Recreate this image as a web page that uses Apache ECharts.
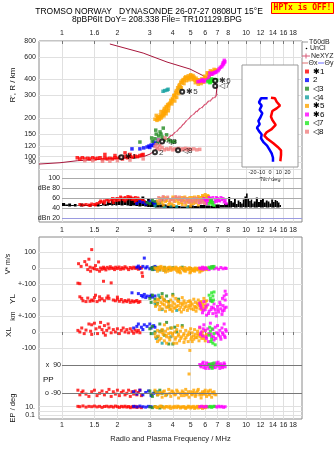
<!DOCTYPE html>
<html>
<head>
<meta charset="utf-8">
<title>Dynasonde ionogram</title>
<script src="https://cdn.jsdelivr.net/npm/echarts@6.0.0/dist/echarts.min.js"></script>
<style>
  html, body { margin: 0; padding: 0; background: #fff; }
  #chart { width: 335px; height: 451px; }
</style>
</head>
<body>
<div id="chart"></div>
<script>
// ---- ticks ----
const freqTicks = [1, 1.5, 2, 3, 4, 5, 6, 7, 8, 10, 12, 14, 16, 18];
const topTickText = ['1', '1.6', '2', '3', '4', '5', '6', '7', '8', '10', '12', '14', '16', '18'];
const bottomTickText = ['1', '1.5', '2', '3', '4', '5', '6', '7', '8', '10', '12', '14', '16', '18'];
const heightTicks = [80, 90, 100, 120, 150, 200, 300, 400, 600, 800];
const dbTicks = [100, 80, 60, 40, 20];
const dbTickText = ['100', 'dBe 80', '60', '40', 'dBn 20'];
const driftTicks = [500, 400, 300, 200, 100, 0, -100];
const driftTickText = ['100', '0', '+-100', '0', '+-100', '0', '-100'];
const ppTicks = [90, -90];
const ppTickText = ['x  90', 'o -90'];
const epLines = [10, 1, 0.1];
const epTicks = [10, 0.1];
const epTickText = ['10.', '0.1'];
const tiltTicks = [-20, -10, 0, 10, 20];

// ---- echo classes ----
const classNames = ['✱1', '2', '◁3', '◁4', '✱5', '✱6', '◁7', '◁8'];
const classColors = ['#ff0000', '#0000ff', '#228b22', '#14a0a0', '#ffa500', '#ff00ff', '#22e822', '#f08080'];

// ---- height panel: [MHz, km] ----
const htRed = [[1.21,98],[1.25,96],[1.29,98],[1.33,96],[1.38,97],[1.42,96],[1.47,98],[1.51,96],[1.56,97],[1.61,98],[1.66,95],[1.71,98],[1.71,104],[1.76,96],[1.82,97],[1.88,96],[1.94,98],[1.94,102],[2.0,97],[2.07,99],[2.13,96],[2.2,100],[2.2,107],[2.27,98],[2.34,100],[2.34,104],[2.41,99],[2.49,101],[2.57,100],[2.65,102],[2.72,103],[2.76,104]];
const htBlue = [[2.4,115],[2.65,115],[2.78,117],[2.9,119],[2.97,121],[3.05,123],[3.12,122],[3.2,126],[3.28,128],[3.33,135],[3.15,130],[3.0,118]];
const htGreen = [[2.65,130],[3.07,140],[3.1,132],[3.2,138],[3.23,161],[3.3,128],[3.35,145],[3.41,156],[3.45,150],[3.5,142],[3.55,167],[3.6,135],[3.7,148],[3.8,135],[3.9,132],[4.0,130],[4.1,131],[3.25,150]];
const htTeal = [[3.54,324],[3.62,328],[3.72,331],[3.77,336],[4.38,347],[4.33,340]];
const htOrange = [[3.32,204],[3.42,212],[3.54,223],[3.7,242],[3.86,262],[4.0,278],[4.11,292],[4.2,310],[4.27,331],[4.38,352],[4.49,376],[4.62,395],[4.78,411],[4.95,418],[5.09,419],[5.2,405],[5.28,396],[5.4,388],[5.48,383],[5.65,388],[5.83,396],[6.0,415],[6.21,438],[6.4,450],[6.62,462],[6.88,476],
  [3.2,196],[3.35,200],[3.5,210],[3.65,225],[3.8,240],[3.95,258],[4.1,272],[4.2,290],[4.3,312],[4.45,345],[4.6,372],[4.75,392],[4.9,398],[5.1,400],[5.3,378],[5.5,368],[5.7,372],[5.9,382],[6.1,410],[6.3,428],[6.5,440],
  [3.45,225],[3.6,238],[3.75,255],[3.9,275],[4.05,300],[4.15,318],[4.25,345],[4.35,365],[4.5,392],[4.65,412],[4.85,428],[5.0,436],[5.15,430],[5.35,410],[5.55,398],[5.75,405],[5.95,425],[6.15,452],[6.4,468],[6.7,480],
  [3.25,210],[3.4,205],[3.55,215],[3.3,198],[3.6,218],[3.7,230],[3.45,200],[3.8,250],[3.95,268],
  [3.28,192],[3.38,195],[3.48,204],[3.58,208],[3.68,216],[3.78,228],[3.58,230],[3.68,246],[3.82,258],[3.98,285],[4.08,302],[4.18,328],[4.32,356],[4.42,382],[4.55,400],[4.7,420],[4.88,410],[5.02,425],[5.22,418],[5.45,398],[5.6,380],[5.8,385],[6.05,405],[6.28,445],[6.52,458],[6.8,468]];
const htMagenta = [[5.48,385],[5.6,388],[5.75,392],[5.9,386],[6.05,395],[6.2,400],[6.36,450],[6.3,420],[6.5,440],[6.7,452],[6.92,460],[7.05,470],[7.15,485],[7.25,498],[7.38,505],[7.45,520],[7.5,538],[7.58,545],[7.67,551],[7.62,565],[7.55,530],[6.6,445],[6.8,455],[5.8,398]];
const htLime = [[6.2,385],[6.3,390],[6.36,378],[6.45,395],[6.55,388],[6.62,400],[6.7,392],[6.77,396],[6.92,396],[6.5,405],[6.4,382]];
const htSalmon = [[1.33,93],[1.47,93],[1.66,92],[1.82,92],[2.0,93],[2.34,94],[2.76,96],[3.2,120],[3.25,124],[3.3,116],[3.4,114],[3.4,122],[3.5,118],[3.6,113],[3.7,115],[3.8,114],[3.9,117],[4.0,113],[4.1,115],[4.2,114],[4.3,116],[4.4,113],[4.5,115],[4.6,114],[4.7,116],[4.8,113],[4.9,115],[5.0,114],[5.2,115],[5.4,113],[5.6,114],[3.35,135],[3.63,140]];

// profile: bottomside, NeXYZ part, topside
const profileLow = [[0.75,87.5],[0.975,89.6],[1.21,92.9],[1.61,95.3],[2.25,97.6],[2.76,99.8],[3.01,104.7],[3.2,112]];
const profileNe = [[3.2,112],[3.35,120],[3.55,131],[3.83,142],[4.03,150],[4.29,163],[4.47,173],[4.66,185],[4.96,203],[5.28,220],[5.5,231],[5.86,248],[6.15,264],[6.5,280],[6.87,297]];
const profileTop = [[6.87,297],[6.95,350],[6.7,390],[6.2,411],[4.96,483],[3.72,548],[2.76,644],[1.82,758]];
const echoLabels = [[2.1,99,'✱1'],[3.2,108,'2'],[3.5,131,'◁3'],[4.5,321,'✱5'],[6.8,392,'✱6'],[6.8,356,'◁7'],[4.27,112,'◁8']];

// tilt inset: [deg, km]
const thetaX = [[1.1,288],[5.7,285],[7.6,268],[11.4,250],[7.6,238],[2.7,227],[1.1,205],[2.7,193],[6.5,177],[1.9,164],[-3.8,155],[-6.5,146],[-2.7,137],[3.8,127],[8.8,119],[12.6,112],[12.6,103],[11.8,92]];
const thetaY = [[-2.7,285],[-10.3,285],[-12.6,265],[-9.5,250],[-11.8,232],[-8.8,218],[-11.1,201],[-13.3,190],[-11.8,179],[-14.9,168],[-12.6,158],[-9.5,149],[-10.3,139],[-7.2,129],[-3.4,122],[-1.1,115],[1.9,106],[3.4,98],[3.4,91]];

// ---- amplitude panel ----
const blackFreq = [1.0,1.04,1.08,1.12,1.16,1.2,1.25,1.3,1.35,1.4,1.45,1.5,1.55,1.6,1.65,1.7,1.75,1.8,1.85,1.9,1.95,2.0,2.08,2.16,2.24,2.32,2.4,2.5,2.6,2.7,2.8,2.9,3.0,3.2,3.4,3.7,4.0,4.4,4.8,5.2,5.6,6.0,6.4,6.8,7.2,7.6,8.0,8.2,8.4,8.6,8.8,9.0,9.2,9.4,9.6,9.8,10.0,10.2,10.4,10.6,10.8,11.0,11.3,11.6,11.9,12.2,12.5,12.8,13.1,13.4,13.7,14.0,14.3,14.6,14.9,15.2];
const blackHigh = [51,48,50,47,49,46,50,48,47,49,46,48,50,47,52,49,54,51,57,53,58,55,60,56,59,63,57,61,58,64,55,59,54,50,48,46,45,44,46,45,47,46,45,48,47,50,63,55,52,60,49,56,53,50,58,64,70,60,55,58,50,54,62,53,57,60,52,56,54,50,58,53,57,55,52,47];
const blackLow = [45,45,44,45,44,45,44,45,45,44,45,45,44,45,46,45,46,47,46,47,46,47,46,47,46,45,46,45,44,45,44,43,43,42,42,41,41,41,41,41,41,41,41,41,42,42,42,42,43,42,42,43,42,42,43,42,42,43,42,42,43,42,42,43,42,42,43,42,42,43,42,42,43,42,42,43];
const dbRed = [[1.25,48],[1.3,47],[1.35,48],[1.4,47],[1.45,49],[1.5,48],[1.55,50],[1.6,52],[1.65,53],[1.7,55],[1.75,57],[1.8,54],[1.85,58],[1.9,56],[1.95,59],[2.0,60],[2.05,57],[2.1,61],[2.15,58],[2.2,62],[2.25,59],[2.3,61],[2.35,63],[2.4,58],[2.45,60],[2.5,62],[2.55,57],[2.6,59],[2.7,55],[2.8,54],[1.7,51],[1.9,52],[2.2,55],[2.5,54],
  [1.62,55],[1.78,58],[1.88,60],[1.98,56],[2.08,63],[2.18,60],[2.28,64],[2.38,61],[2.48,58],[2.58,61],[2.68,58],[2.75,57],[1.42,46],[1.52,47]];
const dbBlue = [[2.55,50],[2.65,54],[2.75,52],[2.85,49],[2.95,53],[3.05,55],[3.15,51],[3.2,48],[3.25,53]];
const dbGreen = [[2.9,52],[3.0,50],[3.1,56],[3.2,54],[3.3,49],[3.4,52],[3.5,57],[6.5,55]];
const dbTeal = [[3.2,45],[3.6,43],[4.2,44],[4.8,43],[3.9,45]];
const dbOrange = [[3.3,55],[3.4,60],[3.5,52],[3.6,62],[3.7,56],[3.8,48],[3.9,58],[4.0,63],[4.1,54],[4.2,60],[4.3,50],[4.4,57],[4.5,62],[4.6,55],[4.7,47],[4.8,60],[4.9,53],[5.0,58],[5.1,62],[5.2,50],[5.3,56],[5.4,60],[5.5,64],[5.6,57],[5.7,62],[5.8,66],[5.9,60],[6.0,68],[6.1,63],[6.2,66],[6.3,60],[6.4,58],[4.05,46],[4.5,48],[5.0,45],[5.5,47],
  [3.35,50],[3.45,57],[3.55,47],[3.65,54],[3.75,61],[3.85,52],[3.95,49],[4.05,58],[4.15,62],[4.25,55],[4.35,61],[4.45,52],[4.55,58],[4.65,63],[4.75,53],[4.85,56],[4.95,62],[5.05,50],[5.15,55],[5.25,63],[5.35,52],[5.45,58],[5.55,61],[5.65,53],[5.75,58],[5.85,63],[5.95,55],[6.05,62],[6.15,58],[6.25,64],[6.35,55],[6.45,52]];
const dbMagenta = [[5.6,52],[5.8,56],[6.0,58],[6.2,55],[6.4,60],[6.6,62],[6.8,57],[7.0,60],[7.2,55],[7.4,58],[7.6,53],[7.8,50],[6.1,50],[6.7,52],[7.3,62],
  [5.7,55],[5.9,60],[6.1,57],[6.3,62],[6.5,58],[6.9,62],[7.1,56],[7.5,60],[7.7,56],[6.0,53],[6.9,54]];
const dbLime = [[6.3,50],[6.4,55],[6.5,58],[6.55,48],[6.6,52],[6.7,46],[6.45,53]];
const dbSalmon = [[3.35,62],[3.45,58],[3.55,64],[3.7,60],[3.85,55],[4.0,60],[4.15,64],[4.3,58],[4.45,55],[4.6,61],[4.75,57],[4.9,52],[5.05,56],[5.2,60],[5.35,53],[5.5,57],[5.65,51],[5.8,55],[5.95,50],
  [3.4,55],[3.5,61],[3.6,57],[3.75,63],[3.9,58],[4.05,55],[4.2,61],[4.35,63],[4.5,58],[4.65,52],[4.8,59],[4.95,56],[5.1,53],[5.25,57],[5.4,61],[5.55,54],[5.7,57],[5.85,52]];

// ---- V* (m/s) ----
const vsRed = [[1.23,27],[1.27,10],[1.33,40],[1.36,20],[1.38,-10],[1.4,55],[1.42,5],[1.43,-20],[1.45,115],[1.47,0],[1.5,-5],[1.52,15],[1.55,-10],[1.58,38],[1.6,-20],[1.62,0],[1.65,-8],[1.68,5],[1.7,-3],[1.73,-12],[1.76,4],[1.8,-5],[1.83,8],[1.86,-2],[1.9,0],[1.93,-10],[1.96,5],[2.0,-3],[2.04,6],[2.08,-8],[2.12,2],[2.16,-5],[2.2,8],[2.25,0],[2.3,-10],[2.35,3],[2.4,-4],[2.45,5],[2.5,-2],[2.55,0],[2.6,-8],[2.65,4],[2.72,-30],[2.74,-52],[2.7,0]];
const vsBlue = [[2.55,5],[2.65,-3],[2.75,10],[2.8,62],[2.85,0],[2.9,8],[3.0,-5],[3.1,3],[3.2,10],[2.6,12],[3.15,-8]];
const vsGreen = [[3.05,0],[3.1,-10],[3.15,5],[3.2,-5],[3.3,3],[3.4,-12],[3.6,4],[3.8,-6],[4.0,2],[4.5,5],[5.0,-3],[6.6,8]];
const vsTeal = [[3.25,-8],[3.6,-15],[4.6,-10]];
const vsOrange = [[3.2,0],[3.3,-5],[3.35,5],[3.4,-10],[3.5,0],[3.55,-15],[3.6,4],[3.7,-8],[3.75,-20],[3.8,2],[3.9,-5],[3.95,-12],[4.0,0],[4.1,-8],[4.15,5],[4.2,-15],[4.3,-3],[4.35,-22],[4.4,2],[4.5,-6],[4.6,-12],[4.65,3],[4.7,-20],[4.8,-4],[4.9,-10],[4.95,-30],[5.0,-2],[5.1,-8],[5.2,-15],[5.3,0],[5.4,-5],[5.5,-10],[5.6,-3],[5.7,-18],[5.8,0],[5.9,-6],[6.0,-3],[6.1,-10],[3.45,10],[4.25,-25],[5.25,-20],[3.65,-25],
  [3.25,-5],[3.42,3],[3.58,-8],[3.72,0],[3.88,-15],[4.02,-5],[4.18,0],[4.32,-10],[4.48,-2],[4.62,-18],[4.78,-8],[4.92,2],[5.08,-15],[5.22,-5],[5.38,-12],[5.52,-2],[5.68,-8],[5.82,-14],[5.98,-5],[6.12,0],[3.3,-20],[3.85,5],[4.4,-30],[5.0,-25],[5.6,-25]];
const vsMagenta = [[5.6,0],[5.7,-5],[5.8,5],[5.9,-8],[6.0,2],[6.1,-3],[6.3,-10],[6.5,5],[6.7,-5],[6.9,0],[7.1,-8],[7.3,3],[7.5,-5],[7.7,0],[7.8,-3]];
const vsLime = [[6.3,5],[6.4,-2],[6.5,8],[6.6,0],[6.7,10]];
const vsSalmon = [];

// ---- YL (km) ----
const ylRed = [[1.22,105],[1.25,102],[1.25,20],[1.28,10],[1.3,-5],[1.35,-10],[1.38,12],[1.42,-8],[1.45,0],[1.48,-5],[1.5,15],[1.52,30],[1.55,-10],[1.6,0],[1.65,8],[1.68,117],[1.7,-5],[1.75,12],[1.8,10],[1.85,107],[1.9,0],[1.95,-5],[2.0,5],[2.05,-8],[2.1,3],[2.15,-12],[2.2,-3],[2.25,-10],[2.3,0],[2.35,-15],[2.4,-5],[2.45,-12],[2.5,-8],[2.55,-3],[2.6,-15],[2.65,-10],[1.6,20],[1.78,25],[2.0,18]];
const ylBlue = [[2.4,45],[2.6,40],[2.7,28],[2.75,20],[2.8,35],[2.9,25],[3.0,22],[3.05,30],[3.1,18],[3.2,25],[2.85,15]];
const ylGreen = [[3.0,10],[3.05,-15],[3.1,30],[3.2,5],[3.3,-20],[3.4,15],[3.5,40],[3.6,0],[3.7,25],[3.8,-10],[4.0,35],[4.3,5],[3.25,-30]];
const ylTeal = [[3.2,-20],[3.5,-60],[3.8,-40],[4.2,-65],[3.35,30]];
const ylOrange = [[3.2,-10],[3.3,-25],[3.35,0],[3.4,-40],[3.45,-15],[3.5,-55],[3.55,5],[3.6,-30],[3.65,-70],[3.7,-10],[3.75,-45],[3.8,-20],[3.85,-60],[3.9,0],[3.95,-35],[4.0,-15],[4.05,-50],[4.1,-25],[4.15,10],[4.2,-40],[4.3,-10],[4.35,-60],[4.4,-20],[4.45,-75],[4.5,-30],[4.6,-5],[4.65,-45],[4.7,-20],[4.8,-65],[4.85,-10],[4.9,-35],[5.0,-15],[5.05,-55],[5.1,-25],[5.2,5],[5.25,-40],[5.3,-15],[5.4,-50],[5.45,-20],[5.5,0],[5.6,-35],[5.7,-10],[5.75,-60],[5.8,-25],[5.9,10],[6.0,-30],[6.1,-5],[3.5,20],[4.0,25],[4.5,15],
  [3.22,-40],[3.38,-60],[3.52,-25],[3.68,-45],[3.82,-35],[3.98,-70],[4.12,-50],[4.28,-35],[4.42,-45],[4.58,-60],[4.72,-40],[4.88,-50],[5.02,-35],[5.18,-60],[5.32,-45],[5.48,-30],[5.62,-55],[5.78,-40],[5.92,-50],[6.08,-45],[3.3,5],[3.6,-5],[3.9,-55],[4.25,-5],[4.55,-20],[4.95,-5],[5.35,-70],[5.65,-15],[6.0,-10]];
const ylMagenta = [[5.6,-20],[5.7,-50],[5.8,-80],[5.9,-10],[6.0,-60],[6.1,-95],[6.2,-30],[6.3,-70],[6.4,-5],[6.5,-45],[6.6,-85],[6.7,-25],[6.8,-60],[6.9,-100],[7.0,-40],[7.1,-75],[7.2,-15],[7.3,-55],[7.4,-90],[7.5,-35],[7.6,-65],[7.7,0],[7.8,-45],[7.6,25],[7.45,10],[7.7,55],[7.8,35],
  [5.65,-35],[5.85,-65],[6.05,-40],[6.25,-85],[6.45,-60],[6.65,-50],[6.85,-80],[7.05,-60],[7.25,-30],[7.45,-70],[7.65,-50]];
const ylLime = [[6.3,30],[6.4,10],[6.5,45],[6.55,-10],[6.6,25],[6.7,50],[6.45,-5],[6.65,0]];
const ylSalmon = [];

// ---- XL (km) ----
const xlRed = [[1.22,10],[1.25,0],[1.28,25],[1.32,-10],[1.35,12],[1.4,50],[1.43,5],[1.45,-15],[1.5,55],[1.53,20],[1.56,-10],[1.6,30],[1.62,60],[1.65,15],[1.68,-5],[1.7,40],[1.72,-20],[1.75,10],[1.8,25],[1.85,-5],[1.9,15],[1.95,0],[2.0,20],[2.05,-10],[2.1,10],[2.15,25],[2.2,0],[2.25,15],[2.3,-5],[2.35,20],[2.4,5],[2.45,-8],[2.5,12],[2.55,0],[2.6,10],[2.65,-5],[1.45,45],[1.78,50]];
const xlBlue = [[2.45,25],[2.55,35],[2.6,50],[2.7,30],[2.8,45],[2.9,35],[3.0,50],[3.05,25],[3.15,40],[3.2,30],[2.75,15]];
const xlGreen = [[3.0,20],[3.05,-10],[3.1,35],[3.2,0],[3.3,-30],[3.4,50],[3.5,10],[3.6,-20],[3.7,60],[3.8,-75],[4.0,-75],[3.9,25],[4.1,30],[4.5,40],[4.2,0]];
const xlTeal = [[3.15,-10],[3.25,-40],[3.5,-70],[3.9,-30],[3.4,5]];
const xlOrange = [[3.2,-10],[3.3,10],[3.35,-25],[3.4,0],[3.45,-40],[3.5,15],[3.55,-15],[3.6,-55],[3.65,5],[3.7,-30],[3.75,20],[3.8,-10],[3.85,-50],[3.9,-5],[3.95,25],[4.0,-25],[4.05,-70],[4.1,0],[4.15,-35],[4.2,15],[4.3,-15],[4.35,-55],[4.4,5],[4.45,-30],[4.5,30],[4.6,-10],[4.65,-45],[4.7,10],[4.8,-20],[4.85,-60],[4.9,0],[5.0,20],[5.05,-30],[5.1,-5],[5.2,-45],[5.25,15],[5.3,-15],[5.4,-35],[5.45,5],[5.5,-20],[5.6,25],[5.7,-10],[5.75,-40],[5.8,0],[5.9,-25],[6.0,10],[6.1,-15],[4.95,-115],[3.6,45],[4.25,40],
  [3.22,-30],[3.38,-50],[3.52,-5],[3.68,-20],[3.82,-35],[3.98,-10],[4.12,-45],[4.28,-25],[4.42,-40],[4.58,-20],[4.72,-35],[4.88,-15],[5.02,-45],[5.18,-25],[5.32,-35],[5.48,-10],[5.62,-30],[5.78,-20],[5.92,-40],[6.08,-25],[3.3,-60],[3.7,-70],[4.2,-70],[4.6,-65],[5.1,-60],[5.55,-55],[6.0,-55]];
const xlMagenta = [[5.6,30],[5.7,0],[5.8,-25],[5.9,45],[6.0,10],[6.1,-40],[6.2,20],[6.3,-10],[6.4,55],[6.5,-30],[6.6,15],[6.7,-50],[6.8,30],[6.9,-5],[7.0,40],[7.1,-20],[7.2,10],[7.3,-45],[7.4,25],[7.5,-15],[7.6,50],[7.7,-35],[7.8,5],
  [5.65,-15],[5.85,20],[6.05,-30],[6.25,-60],[6.45,-15],[6.65,-30],[6.85,-40],[7.05,-10],[7.25,-30],[7.45,-5],[7.65,-25],[7.75,15]];
const xlLime = [[6.3,-20],[6.4,5],[6.5,-45],[6.55,20],[6.6,-70],[6.7,-10],[6.45,-60],[6.8,-80],[6.35,30]];
const xlSalmon = [];

// ---- PP (deg) ----
const ppRed = [[1.22,-70],[1.25,-100],[1.28,-85],[1.3,-75],[1.35,-95],[1.4,-110],[1.45,-80],[1.5,-70],[1.55,-105],[1.6,-90],[1.65,-75],[1.7,-100],[1.75,-85],[1.8,-65],[1.85,-110],[1.9,-80],[1.95,-95],[2.0,-70],[2.05,-105],[2.1,-85],[2.15,-75],[2.2,-100],[2.25,-90],[2.3,-70],[2.35,-110],[2.4,-80],[2.45,-95],[2.5,-75],[2.55,-100],[2.6,-85],[2.65,-70],[2.7,-105]];
const ppBlue = [[2.45,-80],[2.55,-95],[2.65,-70],[2.75,-100],[2.85,-85],[2.95,-75],[3.05,-105],[3.15,-90]];
const ppGreen = [[3.0,-75],[3.05,-95],[3.1,-110],[3.2,-80],[3.3,-100],[3.4,-70],[3.5,-90]];
const ppTeal = [[3.3,-80],[3.7,-100]];
const ppOrange = [[3.2,-70],[3.3,-100],[3.4,-85],[3.5,-115],[3.6,-75],[3.7,-95],[3.8,-65],[3.9,-110],[4.0,-80],[4.1,-100],[4.2,-70],[4.3,-120],[4.4,-90],[4.5,-75],[4.6,-105],[4.7,-65],[4.8,-95],[4.9,-115],[5.0,-80],[5.1,-100],[5.2,-70],[5.3,-110],[5.4,-85],[5.5,-65],[5.6,-100],[5.7,-120],[5.8,-80],[5.9,-95],[6.0,-70],[6.1,-110],[6.2,-85],[6.3,-100],[6.4,-70],[6.5,-115],[6.6,-90],[6.7,-80],[6.85,-100],[4.9,34],[3.45,-90],[4.05,-90],[4.65,-90],[5.25,-90],[5.85,-90],
  [3.25,-85],[3.35,-95],[3.55,-80],[3.65,-105],[3.85,-90],[3.95,-75],[4.15,-95],[4.25,-80],[4.45,-105],[4.55,-85],[4.75,-100],[4.85,-80],[5.05,-95],[5.15,-85],[5.35,-100],[5.45,-75],[5.65,-90],[5.75,-100],[5.95,-80],[6.05,-95],[6.25,-75],[6.35,-95],[6.55,-85],[6.75,-95]];
const ppMagenta = [[5.6,95],[5.7,80],[5.8,100],[5.9,75],[6.0,90],[6.1,105],[6.2,85],[6.3,70],[6.4,95],[6.5,80],[6.6,100],[6.7,90],[6.8,75],[6.9,105],[7.0,85],[7.1,95],[7.2,70],[7.3,100],[7.4,85],[7.5,90],[7.6,105],[7.7,80],
  [5.65,88],[5.85,110],[6.05,70],[6.25,100],[6.45,88],[6.65,78],[6.85,95],[7.05,110],[7.25,88],[7.45,75],[7.65,95]];
const ppLime = [[6.3,95],[6.4,80],[6.5,100],[6.55,70],[6.6,90],[6.7,105],[6.45,85]];
const ppSalmon = [];

// ---- EP (deg) ----
const epRed = [[1.22,12],[1.25,10],[1.3,15],[1.35,8],[1.4,12],[1.45,10],[1.5,14],[1.55,9],[1.6,12],[1.65,7],[1.7,11],[1.75,13],[1.8,9],[1.85,12],[1.9,8],[1.95,14],[2.0,10],[2.05,7],[2.1,12],[2.15,9],[2.2,13],[2.25,8],[2.3,11],[2.35,6],[2.4,10],[2.45,8],[2.5,12],[2.55,7],[2.6,9],[2.7,6]];
const epBlue = [[2.45,12],[2.55,9],[2.65,14],[2.75,10],[2.85,8],[2.95,12],[3.05,10]];
const epGreen = [[3.0,9],[3.1,6],[3.2,11],[3.3,7],[3.4,5],[3.5,10]];
const epTeal = [];
const epOrange = [[3.2,10],[3.3,6],[3.4,12],[3.5,8],[3.6,5],[3.7,11],[3.8,7],[3.9,4],[4.0,9],[4.1,12],[4.2,6],[4.3,10],[4.4,5],[4.5,8],[4.6,11],[4.7,4],[4.8,7],[4.9,10],[5.0,5],[5.1,8],[5.2,12],[5.3,6],[5.4,9],[5.5,5],[5.6,10],[5.7,7],[5.8,4],[5.9,9],[6.0,6],[6.1,11],
  [3.25,8],[3.45,14],[3.65,9],[3.85,12],[4.05,6],[4.25,13],[4.45,9],[4.65,6],[4.85,13],[5.05,9],[5.25,4],[5.45,12],[5.65,8],[5.85,11],[6.05,8]];
const epMagenta = [[5.6,10],[5.75,13],[5.9,8],[6.05,12],[6.2,9],[6.8,11],[6.95,8],[7.1,13],[7.25,9],[7.4,12],[7.55,7],[7.7,10]];
const epLime = [[6.3,9],[6.4,12],[6.5,7],[6.6,10],[6.7,13]];
const epSalmon = [];

// ---------------------------------------------------------------
const FONT = '"Liberation Sans", Arial, sans-serif';
const lx = v => Math.log10(v);
const XMIN = -0.125, XMAX = 1.304;
const HMIN = 1.880, HMAX = lx(800);

const chart = echarts.init(document.getElementById('chart'));

const gridBase = { containLabel: false, outerBoundsMode: 'none' };
const grids = [
  { left: 39, top: 41, width: 263, height: 131 },   // 0 heights
  { left: 39, top: 172, width: 263, height: 50 },   // 1 amplitude
  { left: 39, top: 237, width: 263, height: 118 },  // 2 V*, YL, XL
  { left: 39, top: 355, width: 263, height: 45 },   // 3 PP
  { left: 39, top: 400, width: 263, height: 19 },   // 4 EP
  { left: 242, top: 65, width: 56, height: 102, show: true, backgroundColor: '#fff', borderColor: '#999', borderWidth: 1, z: 3 }, // 5 tilt
  { left: 39, top: 41, width: 263, height: 181, show: true, borderColor: '#8a8a8a', borderWidth: 1 },  // 6 frame
  { left: 39, top: 237, width: 263, height: 182, show: true, borderColor: '#8a8a8a', borderWidth: 1 }  // 7 frame
].map(g => Object.assign({}, gridBase, g));

const lbl = { fontSize: 7, color: '#222', fontFamily: FONT };
const gridLine = { show: true, lineStyle: { color: '#e0e0e0', width: 1 } };
const freqLabelFmt = texts => v => {
  const i = freqTicks.findIndex(t => Math.abs(lx(t) - v) < 1e-6);
  return i < 0 ? '' : texts[i];
};

function freqAxis(gridIndex, extra) {
  return Object.assign({
    type: 'value', gridIndex, min: XMIN, max: XMAX,
    axisLine: { show: false },
    axisTick: { show: false, customValues: freqTicks.map(lx) },
    axisLabel: { show: false },
    splitLine: gridLine
  }, extra);
}

const xAxes = [
  freqAxis(0, { position: 'top',
    axisTick: { show: true, inside: true, length: 3, customValues: freqTicks.map(lx), lineStyle: { color: '#777' } },
    axisLabel: Object.assign({ show: true, margin: 4, customValues: freqTicks.map(lx), formatter: freqLabelFmt(topTickText) }, lbl) }),
  freqAxis(1, { position: 'bottom',
    axisLabel: Object.assign({ show: true, margin: 5, customValues: freqTicks.map(lx), formatter: freqLabelFmt(bottomTickText) }, lbl) }),
  freqAxis(2, { position: 'top',
    axisTick: { show: true, inside: true, length: 3, customValues: freqTicks.map(lx), lineStyle: { color: '#777' } } }),
  freqAxis(3, {}),
  freqAxis(4, { position: 'bottom',
    axisLabel: Object.assign({ show: true, margin: 3, customValues: freqTicks.map(lx), formatter: freqLabelFmt(bottomTickText) }, lbl),
    name: 'Radio and Plasma Frequency / MHz', nameLocation: 'middle', nameGap: 16,
    nameTextStyle: { fontSize: 7.5, color: '#222', fontFamily: FONT } }),
  { type: 'value', gridIndex: 5, min: -32, max: 32,
    axisLine: { show: false },
    axisTick: { show: false, customValues: tiltTicks },
    axisLabel: { show: true, customValues: tiltTicks, margin: 2, fontSize: 5.5, color: '#222', fontFamily: FONT },
    splitLine: { show: true, lineStyle: { color: '#cfcfcf' } },
    name: 'Tilt / deg', nameLocation: 'middle', nameGap: 9,
    nameTextStyle: { fontSize: 5.5, color: '#222', fontFamily: FONT } },
  { type: 'value', gridIndex: 6, show: false },
  { type: 'value', gridIndex: 7, show: false }
];

const yAxes = [
  { type: 'value', gridIndex: 0, min: HMIN, max: HMAX,
    axisLine: { show: false },
    axisTick: { show: false, customValues: heightTicks.map(lx) },
    axisLabel: Object.assign({ customValues: heightTicks.map(lx), margin: 3, formatter: v => String(Math.round(Math.pow(10, v))) }, lbl),
    splitLine: gridLine },
  { type: 'value', gridIndex: 1, min: 13, max: 113, offset: -23,
    axisLine: { show: false }, axisTick: { show: false },
    axisLabel: Object.assign({ customValues: dbTicks, margin: 2, formatter: v => dbTickText[dbTicks.indexOf(v)] }, lbl),
    splitLine: { show: false } },
  { type: 'value', gridIndex: 2, min: -143.75, max: 593.75,
    axisLine: { show: false },
    axisTick: { show: false, customValues: driftTicks },
    axisLabel: Object.assign({ customValues: driftTicks, margin: 3, formatter: v => driftTickText[driftTicks.indexOf(v)] }, lbl),
    splitLine: gridLine },
  { type: 'value', gridIndex: 3, min: -133.1, max: 156.2, offset: -23,
    axisLine: { show: false }, axisTick: { show: false },
    axisLabel: Object.assign({ customValues: ppTicks, margin: 1, formatter: v => ppTickText[ppTicks.indexOf(v)] }, lbl),
    splitLine: { show: false } },
  { type: 'value', gridIndex: 4, min: -1.86, max: 2.558,
    axisLine: { show: false },
    axisTick: { show: false, customValues: epLines.map(lx) },
    axisLabel: Object.assign({ customValues: epTicks.map(lx), margin: 4,
      formatter: v => epTickText[epTicks.findIndex(t => Math.abs(lx(t) - v) < 1e-6)] }, lbl),
    splitLine: gridLine },
  { type: 'value', gridIndex: 5, min: 1.919, max: 2.715, show: false },
  { type: 'value', gridIndex: 6, show: false },
  { type: 'value', gridIndex: 7, show: false }
];

function hLines(values, colors, x0) {
  return {
    silent: true, symbol: 'none', animation: false, label: { show: false },
    data: values.map((v, i) => [
      { coord: [x0, v], lineStyle: { color: colors[i], width: 1, type: 'solid' } },
      { coord: [XMAX, v] }
    ])
  };
}

const series = [];
function addClassSeries(sets, axis, fy, size) {
  const first = series.length;
  sets.forEach((data, i) => {
    series.push({
      name: classNames[i], type: 'scatter', xAxisIndex: axis, yAxisIndex: axis,
      symbol: 'rect', symbolSize: size, silent: true, z: 3,
      itemStyle: { color: classColors[i] },
      data: data.map(p => [lx(p[0]), fy(p[1])])
    });
  });
  return first;
}

// heights panel: profile first, echoes on top
series.push({ type: 'line', xAxisIndex: 0, yAxisIndex: 0, symbol: 'none', silent: true, z: 2,
  lineStyle: { color: '#a8163c', width: 1 }, data: profileLow.map(p => [lx(p[0]), lx(p[1])]) });
series.push({ type: 'line', xAxisIndex: 0, yAxisIndex: 0, symbol: 'rect', symbolSize: [1, 5], symbolRotate: -35,
  silent: true, z: 2, itemStyle: { color: '#d85a78' },
  lineStyle: { color: '#d85a78', width: 1 }, data: profileNe.map(p => [lx(p[0]), lx(p[1])]) });
series.push({ type: 'line', xAxisIndex: 0, yAxisIndex: 0, symbol: 'none', silent: true, z: 2,
  lineStyle: { color: '#a8163c', width: 1 }, data: profileTop.map(p => [lx(p[0]), lx(p[1])]) });

addClassSeries([htRed, htBlue, htGreen, htTeal, htOrange, htMagenta, htLime, htSalmon], 0, lx, 3.5);

series.push({ type: 'scatter', xAxisIndex: 0, yAxisIndex: 0, symbol: 'emptyCircle', symbolSize: 4, silent: true, z: 4,
  itemStyle: { color: '#000', borderColor: '#000', borderWidth: 1 },
  label: { show: true, position: 'right', distance: 1, fontSize: 8, color: '#000', fontFamily: FONT },
  data: echoLabels.map(m => ({ value: [lx(m[0]), lx(m[1])], label: { formatter: m[2] } })) });

// tilt inset
series.push({ type: 'line', xAxisIndex: 5, yAxisIndex: 5, symbol: 'none', silent: true, z: 5,
  lineStyle: { color: '#ff0000', width: 2.5 }, data: thetaX.map(p => [p[0], lx(p[1])]) });
series.push({ type: 'line', xAxisIndex: 5, yAxisIndex: 5, symbol: 'none', silent: true, z: 5,
  lineStyle: { color: '#0000ff', width: 2.5 }, data: thetaY.map(p => [p[0], lx(p[1])]) });

// amplitude panel: black unclassified echo envelope as stepped bands
series.push({
  type: 'custom', xAxisIndex: 1, yAxisIndex: 1, silent: true, z: 2,
  encode: { x: [0, 1], y: [2, 3] },
  data: blackFreq.map((f, i) => [lx(f), lx(blackFreq[Math.min(i + 1, blackFreq.length - 1)]), blackHigh[i], blackLow[i]]),
  renderItem: (params, api) => {
    const p0 = api.coord([api.value(0), api.value(2)]);
    const p1 = api.coord([api.value(1), api.value(3)]);
    return { type: 'rect', shape: { x: p0[0], y: p0[1], width: Math.max(p1[0] - p0[0], 1.5), height: p1[1] - p0[1] },
      style: { fill: '#000' } };
  }
});
const dbFirst = addClassSeries([dbRed, dbBlue, dbGreen, dbTeal, dbOrange, dbMagenta, dbLime, dbSalmon], 1, v => v, 3);
series[dbFirst].markLine = hLines(dbTicks, ['#aaa', '#aaa', '#aaa', '#aaa', '#9a9ae0'], 0);

// drift panels (V* shifted +400, YL +200, XL 0)
addClassSeries([vsRed, vsBlue, vsGreen, vsTeal, vsOrange, vsMagenta, vsLime, vsSalmon], 2, v => v + 400, 3);
addClassSeries([ylRed, ylBlue, ylGreen, ylTeal, ylOrange, ylMagenta, ylLime, ylSalmon], 2, v => v + 200, 3);
addClassSeries([xlRed, xlBlue, xlGreen, xlTeal, xlOrange, xlMagenta, xlLime, xlSalmon], 2, v => v, 3);

const ppFirst = addClassSeries([ppRed, ppBlue, ppGreen, ppTeal, ppOrange, ppMagenta, ppLime, ppSalmon], 3, v => v, 3);
series[ppFirst].markLine = hLines(ppTicks, ['#777', '#777'], 0);

addClassSeries([epRed, epBlue, epGreen, epTeal, epOrange, epMagenta, epLime, epSalmon], 4, lx, 3);

// text helpers
const txt = (x, y, text, o) => Object.assign({ type: 'text', x, y, silent: true, z: 10,
  style: Object.assign({ text, font: '7px ' + FONT, fill: '#222', align: 'left', verticalAlign: 'middle' }, (o || {}).style) },
  o && o.rotation ? { rotation: o.rotation } : {});
const vtxt = (x, y, text, size) => txt(x, y, text, { rotation: Math.PI / 2,
  style: { align: 'center', font: (size || 8) + 'px ' + FONT, fill: '#111' } });
const seg = (x1, y1, x2, y2, color) => ({ type: 'line', silent: true, z: 10,
  shape: { x1, y1, x2, y2 }, style: { stroke: color, lineWidth: 1 } });

const graphics = [
  txt(149, 12, 'TROMSO NORWAY   DYNASONDE 26-07-27 0808UT 15°E', { style: { align: 'center', font: '8.5px ' + FONT, fill: '#000' } }),
  txt(157, 20, '8pBP6It DoY= 208.338 File= TR101129.BPG', { style: { align: 'center', font: '8.5px ' + FONT, fill: '#000' } }),
  { type: 'rect', silent: true, z: 10, shape: { x: 271.5, y: 2.5, width: 62, height: 11 },
    style: { fill: '#ffff00', stroke: '#ff0000', lineWidth: 1 } },
  txt(302.5, 8, 'HPTx is OFF!', { style: { align: 'center', font: 'bold 8px "DejaVu Sans Mono", monospace', fill: '#ff0000' } }),
  // line-style keys
  seg(302, 42, 308, 42, '#999'), txt(309, 42, 'T60dB'),
  { type: 'circle', silent: true, z: 10, shape: { cx: 306.5, cy: 48.5, r: 0.8 }, style: { fill: '#000' } },
  txt(310, 48.5, 'UnCl'),
  seg(302, 56, 310, 56, '#d85a78'), seg(306, 53.5, 306, 58.5, '#d85a78'), txt(311, 56, 'NeXYZ'),
  seg(302, 63, 308, 63, '#e07070'), txt(308.5, 63, 'Θx'), seg(318, 63, 324, 63, '#6a6aff'), txt(324.5, 63, 'Θy'),
  // axis titles
  vtxt(13, 85, "R', R / km"),
  vtxt(8, 264, 'V* m/s', 7),
  vtxt(13, 299, 'YL'),
  vtxt(13, 316, 'km', 7),
  vtxt(9, 332, 'XL'),
  txt(43, 380, 'PP', { style: { font: '8px ' + FONT, fill: '#111' } }),
  vtxt(13, 408, 'EP / deg', 7.5)
];

chart.setOption({
  animation: false,
  backgroundColor: '#fff',
  grid: grids,
  xAxis: xAxes,
  yAxis: yAxes,
  legend: {
    data: classNames.map(n => ({ name: n, icon: 'rect' })),
    orient: 'vertical', left: 305, top: 67.5, padding: 0,
    itemWidth: 4, itemHeight: 4, itemGap: 0.6, selectedMode: false,
    textStyle: { fontSize: 8, color: '#000', fontFamily: FONT, padding: [0, 0, 0, -1] }
  },
  graphic: graphics,
  series: series
});
</script>
</body>
</html>
